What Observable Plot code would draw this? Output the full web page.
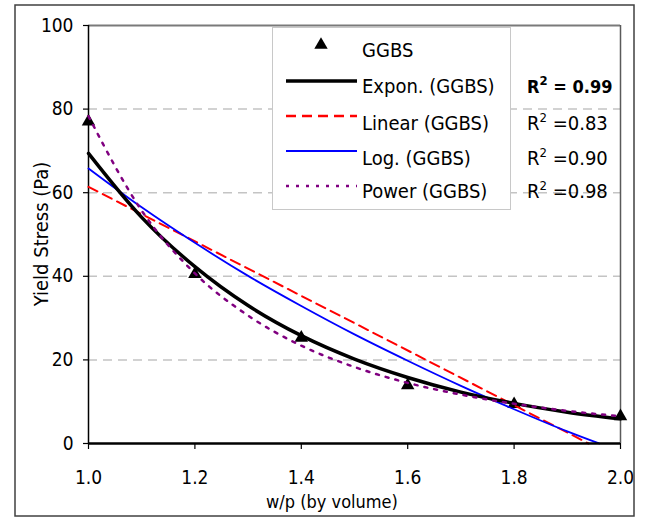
<!DOCTYPE html>
<html>
<head>
<meta charset="utf-8">
<script src="https://cdn.jsdelivr.net/npm/d3@7"></script>
<script src="https://cdn.jsdelivr.net/npm/@observablehq/plot@0.6"></script>
<style>
  html, body { margin: 0; padding: 0; background: #fff; }
  #wrap { position: relative; width: 645px; height: 517px; font-family: "DejaVu Sans Condensed", "DejaVu Sans", sans-serif; font-stretch: condensed; }
  #wrap svg { position: absolute; left: 0; top: 0; }
</style>
</head>
<body>
<div id="wrap"></div>
<script>
// Observed data (GGBS)
const wpRatio = [1.0, 1.2, 1.4, 1.6, 1.8, 2.0];
const yieldStress = [77, 40.5, 25.3, 13.9, 9.4, 6.5];

// Trend lines
const trendX = [1.0, 1.1, 1.2, 1.3, 1.4, 1.5, 1.6, 1.7, 1.8, 1.9, 2.0];
const exponVals = [69.4, 54.1, 42.3, 33.0, 25.8, 20.2, 15.8, 12.3, 9.6, 7.5, 5.9];
const powerVals = [78.3, 55.7, 40.7, 30.6, 23.4, 18.3, 14.5, 11.7, 9.5, 7.8, 6.5];
const logX = [1.0, 1.1, 1.2, 1.3, 1.4, 1.5, 1.6, 1.7, 1.8, 1.9, 1.96];
const logVals = [65.8, 56.5, 48.0, 40.1, 32.9, 26.1, 19.8, 13.8, 8.2, 2.9, 0];
const linearX = [1.0, 1.5, 1.94];
const linearVals = [61.4, 28.8, 0];

const xTicks = [1.0, 1.2, 1.4, 1.6, 1.8, 2.0];
const yTicks = [0, 20, 40, 60, 80, 100];
const gridTicks = [20, 40, 60, 80];

const legendLabels = ["GGBS", "Expon. (GGBS)", "Linear (GGBS)", "Log. (GGBS)", "Power (GGBS)"];
const r2Labels = ["0.99", "0.83", "0.90", "0.98"];

const points = wpRatio.map((x, i) => ({x, y: yieldStress[i]}));
const expon = trendX.map((x, i) => ({x, y: exponVals[i]}));
const power = trendX.map((x, i) => ({x, y: powerVals[i]}));
const logT = logX.map((x, i) => ({x, y: logVals[i]}));
const linear = linearX.map((x, i) => ({x, y: linearVals[i]}));

const chart = Plot.plot({
  width: 645,
  height: 517,
  marginLeft: 88,
  marginRight: 25,
  marginTop: 25,
  marginBottom: 74,
  style: {fontFamily: '"DejaVu Sans Condensed", "DejaVu Sans", sans-serif', fontSize: "19px", color: "#000", background: "transparent"},
  x: {domain: [1, 2]},
  y: {domain: [0, 100]},
  marks: [
    Plot.gridY(gridTicks, {stroke: "#c4c4c4", strokeOpacity: 1, strokeWidth: 1.5, strokeDasharray: "9,6"}),
    Plot.ruleY([100], {stroke: "#7a7a7a", strokeWidth: 2}),
    Plot.ruleX([2], {stroke: "#5a5a5a", strokeWidth: 1.5}),
    Plot.ruleX([1], {stroke: "#000", strokeWidth: 1.5}),
    Plot.axisX({ticks: xTicks, tickSize: 6, tickPadding: 21, tickFormat: d => d.toFixed(1), label: null, fontSize: 19, strokeWidth: 1.2}),
    Plot.axisY({ticks: yTicks, tickSize: 5, tickPadding: 10, label: null, fontSize: 19, strokeWidth: 1.2}),
    Plot.dot(points, {x: "x", y: "y", symbol: "triangle", r: 5, fill: "#000", stroke: "none"}),
    Plot.line(linear, {x: "x", y: "y", stroke: "#ff0000", strokeWidth: 2, strokeDasharray: "10,6"}),
    Plot.line(logT, {x: "x", y: "y", stroke: "#0000ff", strokeWidth: 1.8, curve: "monotone-x"}),
    Plot.line(expon, {x: "x", y: "y", stroke: "#000", strokeWidth: 3.5, curve: "monotone-x"}),
    Plot.line(power, {x: "x", y: "y", stroke: "#800080", strokeWidth: 2.5, strokeDasharray: "3,7", curve: "monotone-x"}),
    Plot.ruleY([0], {stroke: "#000", strokeWidth: 2.5})
  ]
});
const wrap = document.getElementById("wrap");
wrap.appendChild(chart);

// Overlay: border, axis titles, legend, R² labels
const ns = "http://www.w3.org/2000/svg";
const ov = d3.select(wrap).append("svg").attr("xmlns", ns).attr("width", 645).attr("height", 517)
  .style("font-family", '"DejaVu Sans Condensed", "DejaVu Sans", sans-serif');

ov.append("rect").attr("x", 15).attr("y", 5).attr("width", 619).attr("height", 511)
  .attr("fill", "none").attr("stroke", "#404040").attr("stroke-width", 1.5);

ov.append("text").attr("transform", "translate(48,234) rotate(-90)").attr("text-anchor", "middle")
  .attr("font-size", 20).text("Yield Stress (Pa)");
ov.append("text").attr("x", 332).attr("y", 508).attr("text-anchor", "middle")
  .attr("font-size", 18).text("w/p (by volume)");

const lg = ov.append("g");
lg.append("rect").attr("x", 272.5).attr("y", 27.5).attr("width", 238).attr("height", 182)
  .attr("fill", "#fff").attr("stroke", "#c8c8c8").attr("stroke-width", 1);
const baselines = [56.5, 93, 130, 165, 198.3];
const lineYs = [45, 81, 116, 151, 186];
lg.append("path").attr("d", d3.symbol(d3.symbolTriangle, 78)()).attr("transform", `translate(321,${lineYs[0]})`).attr("fill", "#000");
const styles = [
  {stroke: "#000", w: 3.5, dash: null},
  {stroke: "#ff0000", w: 2.5, dash: "10,6"},
  {stroke: "#0000ff", w: 1.8, dash: null},
  {stroke: "#800080", w: 2.5, dash: "3,7"}
];
styles.forEach((s, i) => {
  const l = lg.append("line").attr("x1", 286).attr("x2", 357).attr("y1", lineYs[i + 1]).attr("y2", lineYs[i + 1])
    .attr("stroke", s.stroke).attr("stroke-width", s.w);
  if (s.dash) l.attr("stroke-dasharray", s.dash);
});
legendLabels.forEach((t, i) => {
  lg.append("text").attr("x", 362).attr("y", baselines[i]).attr("font-size", 20).text(t);
});
r2Labels.forEach((v, i) => {
  const t = ov.append("text").attr("x", 527).attr("y", baselines[i + 1]).attr("font-size", 20);
  if (i === 0) t.attr("font-weight", "bold").attr("font-size", 18);
  t.append("tspan").text("R");
  t.append("tspan").attr("font-size", 13).attr("dy", -8).text("2");
  t.append("tspan").attr("dy", 8).text(i === 0 ? " = " + v : " =" + v);
});
</script>
</body>
</html>
